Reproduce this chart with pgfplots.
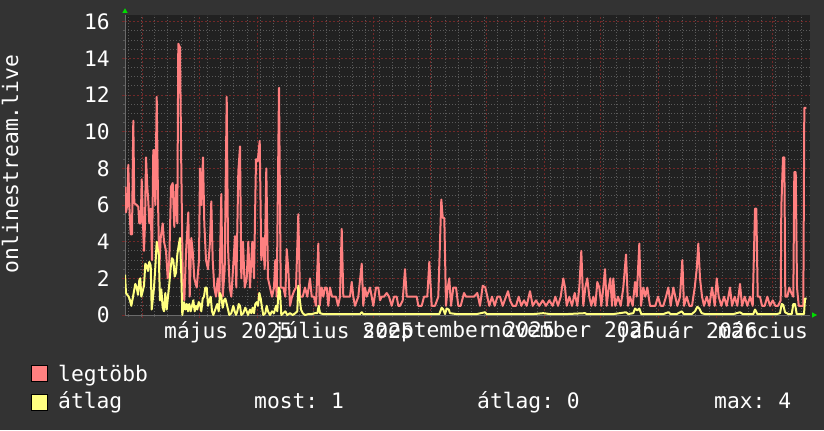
\documentclass[border=0pt]{standalone}
\usepackage{pgfplots}
\pgfplotsset{compat=1.18}
\usepackage{fontspec}
\setmainfont{DejaVu Sans Mono}
\definecolor{bgc}{HTML}{333333}
\definecolor{canvas}{HTML}{212121}
\definecolor{mgrid}{HTML}{722828}
\definecolor{ngrid}{HTML}{5A5A5A}
\definecolor{maxc}{HTML}{FF8080}
\definecolor{avgc}{HTML}{FFFF80}
\definecolor{axc}{HTML}{6A6A6A}
\definecolor{arrc}{HTML}{00DD00}
\begin{document}
\frenchspacing
\fontsize{21.3bp}{25bp}\selectfont
\begin{tikzpicture}[x=1bp,y=1bp]
\path[use as bounding box, fill=bgc] (0,0) rectangle (824,430);
\begin{axis}[name=ax, at={(125bp,115bp)}, anchor=south west, scale only axis,
  width=685bp, height=300bp,
  xmin=125, xmax=810, ymin=0, ymax=16.37,
  axis background/.style={fill=canvas},
  axis x line*=bottom, axis y line*=left,
  axis line style={draw=axc, line width=1bp},
  font=\fontsize{21.3bp}{25bp}\selectfont,
  color=white,
  tick label style={white},
  /pgf/number format/assume math mode=true,
  xtick={142.7,199.3,257.3,313.3,373,430.7,486.7,544,600,658,716,772.7},
  xticklabels={},
  minor xtick={128.3,141.5,154.7,167.9,181.1,194.3,207.5,220.7,233.9,247.1,260.3,273.5,286.7,299.9,313.1,326.3,339.5,352.7,365.9,379.1,392.3,405.5,418.7,431.9,445.1,458.3,471.5,484.7,497.9,511.1,524.3,537.5,550.7,563.9,577.1,590.3,603.5,616.7,629.9,643.1,656.3,669.5,682.7,695.9,709.1,722.3,735.5,748.7,761.9,775.1,788.3,801.5},
  extra x ticks={228.3,343.2,458.7,572,687,763},
  extra x tick labels={május 2025,július 2025,szeptember 2025,november 2025,január 2026,március},
  extra x tick style={grid=none, major tick length=0pt},
  ytick={0,2,...,16},
  minor y tick num=3,
  xmajorgrids, xminorgrids, ymajorgrids, yminorgrids,
  major grid style={draw=mgrid, line width=1bp, dash pattern=on 2bp off 2bp},
  minor grid style={draw=ngrid, line width=1bp, dash pattern=on 1bp off 2bp},
  tick align=outside,
  major tick length=3bp, minor tick length=2bp,
  every major tick/.append style={draw=mgrid, line width=1bp},
  every minor tick/.append style={draw=ngrid, line width=1bp},
  yticklabel style={anchor=east, inner sep=0pt, xshift=-12bp},
  xticklabel style={anchor=north, inner sep=0pt, yshift=-6bp},
]
\addplot[maxc, line width=2bp, line join=round] coordinates {
(125.0,7.0)(126.0,5.6)(127.3,6.0)(128.3,8.2)(129.3,6.0)(130.7,4.4)(132.0,4.4)(133.3,10.6)(134.3,6.1)(136.7,6.0)
(138.3,5.9)(139.3,5.0)(140.7,5.0)(141.7,7.4)(142.7,5.5)(144.0,3.5)(145.0,5.0)(146.0,8.6)(147.3,7.0)(148.3,6.2)
(149.3,5.0)(150.7,5.8)(152.0,3.0)(153.3,9.0)(154.3,9.0)(155.3,6.0)(156.7,11.9)(158.0,6.3)(159.3,2.5)(160.7,4.2)
(162.7,5.0)(164.0,4.0)(166.0,3.5)(167.7,2.0)(169.3,3.0)(171.0,7.0)(172.7,7.2)(174.3,4.8)(176.0,7.1)(177.3,5.0)
(178.3,14.8)(180.0,14.6)(181.3,8.0)(182.7,2.0)(184.3,0.8)(186.0,3.4)(188.3,5.6)(189.7,1.0)(191.3,4.2)(192.7,3.5)
(194.3,2.0)(196.7,1.5)(199.0,3.0)(200.0,8.0)(201.3,6.0)(203.0,8.6)(204.3,5.0)(206.0,3.0)(208.0,2.5)(210.0,4.0)
(211.3,6.2)(212.7,3.0)(214.3,1.5)(216.0,1.0)(217.7,2.0)(219.3,1.0)(221.3,6.6)(222.7,1.0)(224.7,2.5)(226.7,11.9)
(228.0,3.7)(229.7,1.5)(231.3,1.0)(233.0,2.5)(235.0,4.3)(236.3,1.5)(238.3,7.8)(240.0,9.2)(241.3,2.0)(243.0,4.0)
(244.7,1.5)(246.7,2.0)(248.3,4.0)(250.0,1.5)(252.3,4.0)(254.0,2.0)(256.0,8.5)(257.7,8.4)(259.7,9.5)(261.3,3.0)
(263.0,4.2)(264.7,2.5)(266.3,8.0)(268.0,2.0)(270.0,1.5)(272.0,1.0)(274.0,1.5)(275.3,3.0)(276.7,1.0)(279.0,12.4)
(280.7,1.5)(283.3,1.5)(285.3,1.0)(286.7,3.6)(288.3,2.5)(290.0,0.5)(292.0,1.0)(294.0,1.3)(296.0,1.5)(298.3,5.5)
(300.0,1.0)(302.7,1.0)(305.0,1.5)(307.3,1.0)(310.0,2.0)(311.7,1.0)(314.0,1.0)(316.0,0.5)(318.3,3.9)(319.7,0.5)
(321.7,1.5)(323.3,1.0)(325.0,1.5)(326.7,1.5)(328.3,0.5)(330.0,1.5)(332.0,1.0)(334.0,1.0)(336.0,1.0)(338.0,0.5)
(340.0,1.0)(341.7,4.7)(343.3,1.0)(345.0,1.0)(347.3,1.0)(350.0,1.0)(351.7,1.8)(353.3,1.0)(355.0,0.5)(358.3,1.0)
(361.7,2.8)(363.3,0.5)(365.0,1.5)(366.7,1.0)(370.0,1.5)(371.7,1.0)(373.3,0.5)(376.0,1.5)(378.3,1.5)(380.0,0.8)
(381.7,1.0)(384.0,1.0)(386.7,1.2)(389.0,1.0)(391.7,0.5)(394.0,1.0)(396.7,1.0)(398.3,0.5)(400.0,0.5)(402.7,0.8)
(405.0,2.5)(406.7,1.0)(411.7,1.0)(416.7,1.0)(418.3,0.5)(421.7,0.5)(424.0,1.0)(427.3,1.0)(429.3,2.9)(431.7,0.5)
(435.0,0.5)(438.3,1.0)(441.3,6.3)(442.7,5.3)(444.3,5.3)(446.0,0.5)(447.7,1.5)(449.3,2.0)(451.0,0.5)(453.3,1.5)
(456.0,1.5)(458.3,0.5)(460.7,0.5)(464.0,1.2)(466.0,1.0)(470.0,1.0)(474.0,1.0)(477.3,1.2)(480.0,0.5)(482.7,1.6)
(485.3,1.5)(487.3,1.0)(489.3,0.5)(492.0,1.0)(494.7,0.5)(497.3,1.0)(500.0,1.0)(502.7,0.5)(506.0,1.0)(508.0,1.3)
(510.0,0.8)(512.7,0.5)(516.0,0.5)(518.7,1.0)(521.3,0.5)(524.0,0.8)(526.7,0.5)(530.0,1.3)(532.7,0.5)(536.0,0.8)
(539.3,0.5)(542.7,0.8)(546.0,0.5)(549.3,0.8)(552.7,0.5)(555.3,1.0)(558.0,0.5)(560.7,1.0)(563.3,2.0)(565.0,1.5)
(566.7,0.5)(569.3,1.0)(572.0,0.5)(574.7,1.2)(577.3,0.5)(579.3,1.5)(581.3,3.5)(583.3,0.5)(585.3,1.5)(587.3,2.0)
(589.3,1.0)(591.3,0.5)(593.3,1.0)(595.3,0.5)(597.3,1.8)(599.3,1.5)(601.3,0.5)(603.3,1.5)(605.0,2.5)(606.7,0.5)
(608.7,1.5)(610.3,2.0)(612.0,0.5)(613.3,2.0)(615.3,0.5)(618.0,1.0)(620.7,0.5)(623.3,1.5)(626.0,3.3)(628.0,0.5)
(630.0,1.0)(632.7,0.5)(635.0,1.8)(636.7,1.0)(639.3,3.9)(641.0,0.5)(643.3,1.5)(645.3,1.0)(647.3,1.5)(650.0,0.5)
(652.7,0.5)(655.3,0.5)(658.0,1.0)(660.7,0.5)(663.3,0.5)(666.0,1.0)(668.3,1.5)(670.7,0.5)(673.3,1.5)(675.3,1.0)
(677.3,0.5)(680.0,1.0)(682.3,3.0)(684.0,0.5)(686.7,1.0)(689.3,0.5)(692.0,0.5)(694.7,1.5)(696.7,2.5)(698.3,3.9)
(700.0,2.0)(702.0,1.0)(704.0,0.5)(706.7,1.0)(709.3,0.5)(712.0,1.5)(714.7,0.5)(716.7,2.0)(718.7,1.0)(721.3,0.5)
(724.0,1.0)(726.7,0.5)(730.0,1.5)(732.0,0.5)(734.7,1.0)(737.3,0.5)(740.0,1.7)(742.0,0.5)(744.7,1.0)(747.3,0.5)
(750.0,1.0)(752.7,0.5)(755.0,5.8)(756.3,5.8)(757.7,1.0)(760.0,1.0)(762.0,0.5)(764.7,0.5)(767.3,1.0)(770.0,0.5)
(772.7,0.8)(775.3,0.5)(778.0,0.5)(780.7,0.8)(781.3,5.9)(783.0,8.6)(784.3,8.6)(785.3,1.0)(787.3,1.0)(789.3,1.5)
(791.3,1.2)(793.3,1.0)(794.3,7.8)(795.7,7.8)(797.0,1.5)(798.7,0.5)(801.3,0.5)(803.3,0.5)(804.3,11.3)(806.3,11.3)
};
\addplot[avgc, line width=2bp, line join=round] coordinates {
(125.0,2.2)(126.0,1.2)(127.3,1.1)(128.7,1.0)(130.0,0.8)(131.3,0.5)(132.7,0.9)(134.0,1.3)(135.3,1.7)(136.7,1.5)
(138.0,1.1)(139.3,1.9)(140.3,2.0)(141.3,1.0)(142.7,1.3)(144.0,1.6)(145.3,2.8)(146.7,2.7)(148.0,2.4)(149.3,2.9)
(150.7,2.7)(151.7,0.3)(152.7,0.8)(154.0,1.5)(155.3,2.6)(156.7,4.0)(157.7,3.6)(158.7,3.4)(160.0,0.8)(161.3,1.4)
(162.7,0.4)(164.0,0.2)(165.3,1.2)(166.7,0.3)(168.0,1.0)(169.3,1.7)(170.7,2.6)(172.0,3.1)(173.3,3.0)(174.7,2.1)
(176.0,2.3)(177.3,3.3)(178.7,3.8)(180.0,4.2)(181.3,2.2)(182.3,0.0)(184.0,0.7)(185.3,0.3)(186.7,0.6)(188.0,0.2)
(189.3,0.6)(190.7,0.2)(192.0,0.5)(193.3,0.8)(194.7,0.2)(196.0,0.5)(197.3,0.3)(198.7,0.7)(200.0,0.6)(201.3,0.2)
(202.7,0.9)(204.0,1.0)(205.3,1.5)(206.7,1.5)(208.0,0.5)(209.3,0.8)(210.7,1.0)(212.0,0.2)(213.3,0.0)(215.3,0.3)
(217.3,0.6)(218.7,0.2)(220.0,1.2)(221.3,1.0)(222.7,0.4)(224.0,0.8)(225.3,0.9)(226.7,0.6)(228.0,0.3)(229.3,0.0)
(231.3,0.1)(233.3,0.5)(234.7,0.2)(236.0,0.0)(237.3,0.2)(238.7,0.6)(240.0,0.5)(241.3,0.0)(243.3,0.1)(245.3,0.4)
(246.7,0.2)(248.0,0.0)(250.0,0.3)(251.3,0.1)(252.7,0.4)(254.0,0.1)(255.3,0.6)(256.7,0.7)(258.0,0.5)(259.3,1.2)
(260.7,0.9)(262.0,0.4)(263.3,0.0)(265.3,0.1)(266.7,0.5)(268.0,0.2)(270.0,0.0)(272.0,0.2)(274.0,0.1)(276.0,0.5)
(277.3,0.2)(278.7,1.5)(280.0,1.3)(281.3,0.0)(283.3,0.1)(285.3,0.2)(287.3,0.0)(290.0,0.1)(292.7,0.0)(295.3,0.1)
(297.3,0.2)(298.3,1.6)(299.7,0.9)(301.0,0.3)(302.7,0.1)(305.0,0.0)(308.3,0.05)(311.7,0.05)(315.0,0.1)(317.3,0.1)
(318.7,0.5)(320.0,0.1)(323.3,0.05)(328.3,0.05)(333.3,0.05)(340.0,0.05)(346.7,0.05)(353.3,0.05)(360.0,0.05)(361.7,0.15)
(363.3,0.05)(370.0,0.05)(380.0,0.05)(390.0,0.05)(400.0,0.05)(420.0,0.05)(430.0,0.05)(439.3,0.05)(441.7,0.4)(443.3,0.3)
(445.0,0.05)(446.7,0.35)(448.7,0.3)(450.0,0.1)(456.7,0.05)(466.7,0.05)(476.7,0.05)(485.0,0.15)(486.7,0.05)(500.0,0.05)
(516.7,0.05)(533.3,0.05)(543.3,0.1)(550.0,0.05)(566.7,0.05)(585.0,0.1)(586.7,0.05)(600.0,0.05)(613.3,0.05)(626.0,0.15)
(628.3,0.05)(633.3,0.1)(635.0,0.35)(637.3,0.25)(639.3,0.35)(641.3,0.05)(653.3,0.05)(663.3,0.05)(668.3,0.15)(670.7,0.05)
(676.7,0.05)(681.7,0.2)(684.0,0.05)(691.7,0.05)(695.0,0.2)(697.3,0.45)(699.3,0.35)(701.7,0.1)(705.0,0.05)(716.7,0.05)
(720.0,0.05)(733.3,0.05)(740.0,0.15)(742.7,0.05)(753.3,0.05)(755.0,0.3)(757.3,0.05)(766.7,0.05)(776.7,0.05)(780.0,0.1)
(781.7,0.6)(783.3,0.55)(785.0,0.15)(788.3,0.05)(791.7,0.05)(793.3,0.6)(795.0,0.6)(796.7,0.05)(801.7,0.05)(804.0,0.05)
(805.0,0.9)(806.7,0.9)
};
\end{axis}
% axis arrows
\fill[arrc] (125,421.7) -- (122.3,417) -- (127.7,417) -- cycle;
\fill[arrc] (817,115) -- (812,117.7) -- (812,112.3) -- cycle;
% y label
\node[rotate=90, anchor=base, inner sep=0pt, white] at (18,266) {onlinestream.live};
% legend
\filldraw[fill=maxc, draw=black, line width=1bp] (31.7,48.3) rectangle (47.3,64.3);
\filldraw[fill=avgc, draw=black, line width=1bp] (31.7,20) rectangle (47.3,35.7);
\node[anchor=base west, inner sep=0pt, white] at (58,49) {legtöbb};
\node[anchor=base west, inner sep=0pt, white] at (58,21.7) {átlag};
\node[anchor=base west, inner sep=0pt, white] at (254,21.7) {most: 1};
\node[anchor=base west, inner sep=0pt, white] at (477,21.7) {átlag: 0};
\node[anchor=base west, inner sep=0pt, white] at (714,21.7) {max: 4};
\end{tikzpicture}
\end{document}
